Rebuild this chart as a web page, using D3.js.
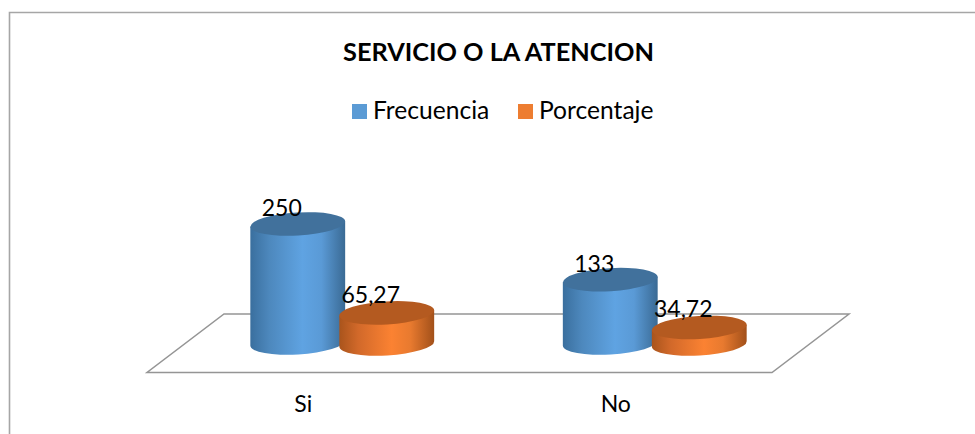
<!DOCTYPE html>
<html><head><meta charset="utf-8">
<script src="https://cdn.jsdelivr.net/npm/d3@7/dist/d3.min.js"></script>
<style>html,body{margin:0;padding:0;background:#fff}svg{display:block}text{font-family:"Lato","Open Sans",sans-serif;fill:#000}</style>
</head><body><svg id="c" width="975" height="434"></svg>
<script>
const chartTitle = "SERVICIO O LA ATENCION";
const categories = ["Si", "No"];
const seriesNames = ["Frecuencia", "Porcentaje"];
const frecuencia = [250, 133];
const porcentaje = [65.27, 34.72];
const valueLabels = [["250", "133"], ["65,27", "34,72"]];
const mainColors = ["#5b9bd5", "#ed7d31"];
const gradStops = [["#3a6f9e","#4d88bd","#5fa3e2","#5a9ad6","#3a6a94"],["#a9541c","#d2692a","#fb8232","#e87a2f","#a2501a"]];
const topColors = ["#41719c", "#b45a20"];

const svg = d3.select("#c");
const W = 975, H = 434;
const defs = svg.append("defs");
gradStops.forEach((st,i)=>{
  const g = defs.append("linearGradient").attr("id","g"+i).attr("x1",0).attr("x2",1).attr("y1",0).attr("y2",0);
  st.forEach((c,k)=>g.append("stop").attr("offset",[0,0.2,0.55,0.75,1][k]).attr("stop-color",c));
});

// frame
svg.append("path").attr("d",`M9.5,${H}V12.5H${W}`).attr("fill","none").attr("stroke","#a6a6a6").attr("stroke-width",1.6);

// floor
const floor = [[147,372.5],[772,372.5],[849,314],[224,314]];
svg.append("path").attr("d",d3.line()(floor)+"Z").attr("fill","#fff").attr("stroke","#959595").attr("stroke-width",1.5);

const x0 = d3.scaleBand().domain(categories).range([147,772]);
const x1 = d3.scaleOrdinal().domain(seriesNames).range([-44.5,44.5]);
const y = d3.scaleLinear().domain([0,250]).range([0,119]);
const series = [frecuencia, porcentaje];
const rx = 47.5, ry = 11.5, tilt = -3.4;
const depthShift = 39;
const bases = [343, 344];
const labelDy = [8, 10];

function cylinder(g, cx, cyBase, h, si){
  const t = tilt*Math.PI/180;
  const ex = rx*Math.cos(t), ey = rx*Math.sin(t);
  const yTop = cyBase-h;
  const side = `M${cx-ex},${yTop-ey}L${cx-ex},${cyBase-ey}`+
    `A${rx},${ry} ${tilt} 0 0 ${cx+ex},${cyBase+ey}`+
    `L${cx+ex},${yTop+ey}Z`;
  g.append("path").attr("d",side).attr("fill",`url(#g${si})`);
  g.append("ellipse").attr("rx",rx).attr("ry",ry)
    .attr("transform",`translate(${cx},${yTop}) rotate(${tilt})`).attr("fill",topColors[si]);
}
const gBars = svg.append("g");
const barCx = (c,si)=>x0(c)+x0.bandwidth()/2+depthShift+x1(seriesNames[si]);
categories.forEach((c,ci)=>{
  series.forEach((vals,si)=>cylinder(gBars, barCx(c,si), bases[si], y(vals[ci]), si));
});
categories.forEach((c,ci)=>{
  series.forEach((vals,si)=>{
    svg.append("text").attr("x",barCx(c,si)-16).attr("y",bases[si]-y(vals[ci])-labelDy[si])
      .attr("text-anchor","middle").attr("font-size",23).text(valueLabels[si][ci]);
  });
  svg.append("text").attr("x",x0(c)+x0.bandwidth()/2).attr("y",412).attr("text-anchor","middle").attr("font-size",23).text(c);
});
svg.append("text").attr("x",498.5).attr("y",60.5).attr("text-anchor","middle").attr("font-size",25.3).attr("font-weight",700).text(chartTitle);
const legendX = [352,518], legendTextX=[373,539];
seriesNames.forEach((n,i)=>{
  svg.append("rect").attr("x",legendX[i]).attr("y",104).attr("width",15).attr("height",15).attr("fill",mainColors[i]);
  svg.append("text").attr("x",legendTextX[i]).attr("y",119).attr("font-size",24.6).text(n);
});
</script></body></html>
